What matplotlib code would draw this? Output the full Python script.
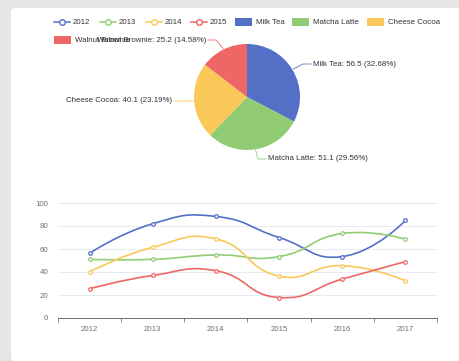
import numpy as np
import matplotlib
matplotlib.use('Agg')
import matplotlib.pyplot as plt
from matplotlib.path import Path
from matplotlib.patches import PathPatch, FancyBboxPatch, Rectangle
from matplotlib.lines import Line2D

plt.rcParams['font.family'] = ['Liberation Sans', 'DejaVu Sans']

# data
years = ['2012', '2013', '2014', '2015', '2016', '2017']
series_names = ['2012', '2013', '2014', '2015']
s2012 = [56.3, 82.0, 88.3, 70.0, 53.4, 84.8]
s2013 = [51.0, 51.0, 54.8, 53.4, 73.5, 68.5]
s2014 = [40.2, 61.5, 68.8, 36.4, 45.5, 32.4]
s2015 = [25.4, 37.0, 41.1, 17.8, 33.8, 49.0]

drinks = ['Milk Tea', 'Matcha Latte', 'Cheese Cocoa', 'Walnut Brownie']
drink_values = [56.5, 51.1, 40.1, 25.2]
drink_pct = ['32.68%', '29.56%', '23.19%', '14.58%']

colors = ['#5470c6', '#91cc75', '#fac858', '#ee6666']
W, H = 460, 361
FS = 5.7


def fx(px):
    return px / W


def fy(py):
    return 1 - py / H


fig = plt.figure(figsize=(W / 100, H / 100), dpi=100)
fig.patch.set_facecolor('#e6e6e6')

# card background
card = FancyBboxPatch((fx(11), 0), 1, fy(8), boxstyle='round,pad=0,rounding_size=0.01',
                      transform=fig.transFigure, facecolor='white', edgecolor='none', zorder=-5)
fig.patches.append(card)

# legend
text_kw = dict(fontsize=FS, color='#333333', va='center', ha='left')
ly = 22
line_legend_x = [54, 100, 146, 191]
for name, c, x0 in zip(series_names, colors, line_legend_x):
    fig.add_artist(Line2D([fx(x0), fx(x0 + 16)], [fy(ly), fy(ly)], color=c, lw=1.1,
                          transform=fig.transFigure))
    fig.add_artist(Line2D([fx(x0 + 8)], [fy(ly)], color=c, marker='o', markersize=4,
                          markerfacecolor='white', markeredgewidth=1.0, transform=fig.transFigure))
    fig.text(fx(x0 + 19), fy(ly), name, **text_kw)

rect_legend = [(235, 22), (292, 22), (367, 22), (54, 40)]
for name, c, (x0, yy) in zip(drinks, colors, rect_legend):
    fig.add_artist(Rectangle((fx(x0), fy(yy + 3.5)), 17 / W, 7 / H, facecolor=c,
                             edgecolor='none', transform=fig.transFigure))
    fig.text(fx(x0 + 21), fy(yy), name, **text_kw)

# pie
cx, cy, r = 247, 97, 53
axp = fig.add_axes([fx(cx - r), fy(cy + r), 2 * r / W, 2 * r / H])
wedges, _ = axp.pie(drink_values, colors=colors, startangle=90, counterclock=False,
                    radius=1, wedgeprops=dict(linewidth=0))
axp.set_xlim(-1, 1)
axp.set_ylim(-1, 1)
axp.set_aspect('auto')
axp.axis('off')

total = sum(drink_values)
label_pos = [(313, 64, 'left'), (268, 159, 'left'), (172, 101, 'right'), (206, 40, 'right')]
cum = 0
for v, pct, name, c, (tx, ty, ha) in zip(drink_values, drink_pct, drinks, colors, label_pos):
    mid = np.deg2rad(90 - (cum + v / 2) / total * 360)
    cum += v
    ex, ey = cx + (r + 1) * np.cos(mid), cy - (r + 1) * np.sin(mid)
    if ha == 'left':
        bx, endx = tx - 10, tx - 2
    else:
        bx, endx = tx + 10, tx + 2
    fig.add_artist(Line2D([fx(ex), fx(bx), fx(endx)], [fy(ey), fy(ty), fy(ty)],
                          color=c, lw=0.6, transform=fig.transFigure))
    fig.text(fx(tx), fy(ty), f'{name}: {v} ({pct})', fontsize=FS,
             color='#333333', va='center', ha=ha)

# line chart
axl = fig.add_axes([fx(58), fy(318), (437 - 58) / W, (318 - 203) / H])
xs = np.arange(len(years))
xscale, yscale = 63.0, 1.15


def smooth_path(x, y, smooth=0.5):
    pts = np.column_stack([np.asarray(x, float) * xscale, np.asarray(y, float) * yscale])
    n = len(pts)
    cps = []
    for i in range(n):
        p = pts[i]
        if i == 0 or i == n - 1:
            cps.append((p, p))
            continue
        prev, nxt = pts[i - 1], pts[i + 1]
        v = nxt - prev
        d0 = np.hypot(*(p - prev))
        d1 = np.hypot(*(p - nxt))
        s = d0 + d1
        d0, d1 = d0 / s, d1 / s
        cps.append((p - v * smooth * d0, p + v * smooth * d1))
    verts = [pts[0]]
    codes = [Path.MOVETO]
    for i in range(n - 1):
        verts += [cps[i][1], cps[i + 1][0], pts[i + 1]]
        codes += [Path.CURVE4] * 3
    verts = np.array(verts) / [xscale, yscale]
    return Path(verts, codes)


for vals, c in zip([s2012, s2013, s2014, s2015], colors):
    axl.add_patch(PathPatch(smooth_path(xs, vals), facecolor='none', edgecolor=c, lw=1.2, zorder=3))
    axl.plot(xs, vals, linestyle='none', marker='o', markersize=2.6, markerfacecolor='white',
             markeredgecolor=c, markeredgewidth=0.9, zorder=4)

axl.set_xlim(-0.5, 5.5)
axl.set_ylim(0, 100)
axl.set_yticks([0, 20, 40, 60, 80, 100])
axl.set_xticks(xs)
axl.set_xticklabels(years)
axl.set_xticks(np.arange(-0.5, 6, 1), minor=True)
axl.tick_params(axis='x', which='major', length=0, pad=6, labelsize=FS, labelcolor='#6e7079')
axl.tick_params(axis='x', which='minor', length=3, color='#6e7079', width=0.6)
axl.tick_params(axis='y', length=0, pad=7, labelsize=FS, labelcolor='#6e7079')
axl.grid(axis='y', color='#e0e6f1', lw=0.6)
axl.set_axisbelow(True)
axl.patch.set_alpha(0)
for side in ['top', 'right', 'left']:
    axl.spines[side].set_visible(False)
axl.spines['bottom'].set_color('#6e7079')
axl.spines['bottom'].set_linewidth(0.7)

fig.savefig('out.png', dpi=100, facecolor=fig.get_facecolor())
